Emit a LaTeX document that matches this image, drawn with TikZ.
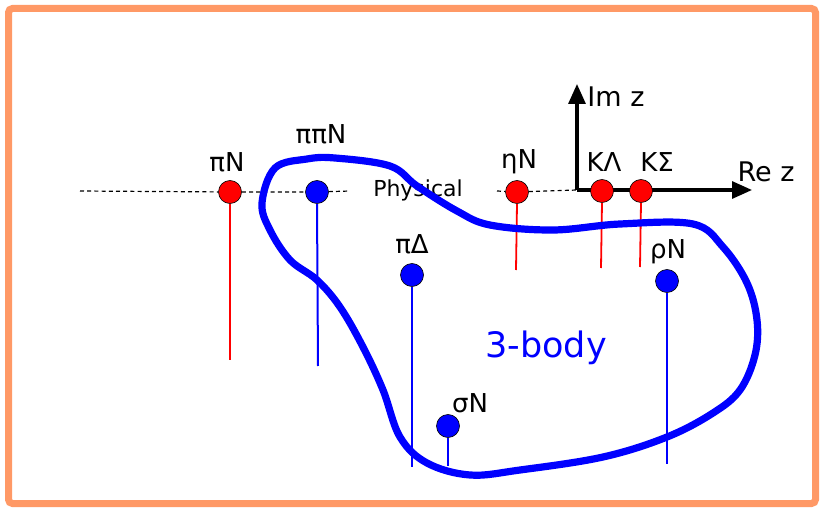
\documentclass[tikz,border=0pt]{standalone}
\usepackage{fontspec}
\setmainfont{DejaVu Sans}
\usetikzlibrary{arrows.meta}
\definecolor{framecol}{HTML}{FF9966}

\begin{document}
\begin{tikzpicture}[
    x=0.5pt, y=-0.5pt,
    pole/.style={circle, draw=black, line width=0.3pt, minimum size=11.5pt, inner sep=0pt},
    redpole/.style={pole, fill=red},
    bluepole/.style={pole, fill=blue},
    tag/.style={font=\fontsize{13}{15}\selectfont, inner sep=0pt},
    redcut/.style={draw=red, line width=0.9pt},
    bluecut/.style={draw=blue, line width=1pt},
    axis/.style={-{Triangle[length=10pt,width=8.5pt]}, line width=1.6pt},
    physline/.style={dashed, dash pattern=on 2pt off 1.6pt, line width=0.6pt},
    threebody/.style={draw=blue, line width=3.6pt, line join=round}
]

\useasboundingbox (0,0) rectangle (820,508);
\draw[framecol, line width=3.5pt, rounded corners=2pt] (8.5,8.5) rectangle (815.5,503.5);

% axes of the z plane
\coordinate (origin) at (577,190);
\coordinate (imtip) at (577,84);
\coordinate (retip) at (752,190);
\draw[axis] (origin) -- (imtip);
\draw[axis] (origin) -- (retip);

% thresholds
\node[redpole] (piN) at (230,192) {};
\node[bluepole] (pipiN) at (317,192) {};
\node[redpole] (etaN) at (517,192) {};
\node[redpole] (KLam) at (602,191) {};
\node[redpole] (KSig) at (641,191) {};
\node[bluepole] (piDel) at (412,275) {};
\node[bluepole] (rhoN) at (667,281) {};
\node[bluepole] (sigN) at (448,426) {};

% physical axis
\coordinate (physL) at (80,191);
\coordinate (physM) at (350,191);
\coordinate (physR) at (497,191);
\draw[physline] (physL) -- (piN) -- (pipiN) -- (physM);
\draw[physline] (physR) -- (etaN) -- (origin);
\node[font=\fontsize{11}{13}\selectfont, inner sep=0pt] (phys) at (418,190) {Physical};

% cuts
\coordinate (piN-end) at (230,360);
\coordinate (pipiN-end) at (318,366);
\coordinate (etaN-end) at (516,270);
\coordinate (KLam-end) at (601,268);
\coordinate (KSig-end) at (640,267);
\coordinate (piDel-end) at (412,467);
\coordinate (rhoN-end) at (667,464);
\coordinate (sigN-end) at (448,466);
\draw[redcut] (piN.south) -- (piN-end);
\draw[bluecut] (pipiN.south) -- (pipiN-end);
\draw[redcut] (etaN.south) -- (etaN-end);
\draw[redcut] (KLam.south) -- (KLam-end);
\draw[redcut] (KSig.south) -- (KSig-end);
\draw[bluecut] (piDel.south) -- (piDel-end);
\draw[bluecut] (rhoN.south) -- (rhoN-end);
\draw[bluecut] (sigN.south) -- (sigN-end);

% 3-body region
\draw[threebody] plot[smooth cycle, tension=0.6] coordinates {
    (262,203) (275,168) (307,159) (335,158) (390,166) (417,186) (457,211)
    (490,225) (553,230) (620,224) (693,224) (723,247) (747,283) (757,320)
    (755,355) (740,390) (713,413) (667,437) (603,457) (520,470) (470,475)
    (427,463) (400,437) (383,390) (363,347) (340,307) (317,280) (290,260)
    (270,230)};
\node[font=\fontsize{17.5}{20}\selectfont, text=blue, inner sep=0pt] (body) at (546,348) {3-body};

% labels
\node[tag] (piN-lab) at (227,162) {πN};
\node[tag] (pipiN-lab) at (321,134) {ππN};
\node[tag] (etaN-lab) at (519,162) {ηN};
\node[tag] (KLam-lab) at (604,162) {KΛ};
\node[tag] (KSig-lab) at (657,162) {KΣ};
\node[tag] (piDel-lab) at (412,244) {πΔ};
\node[tag] (rhoN-lab) at (668,252) {ρN};
\node[tag] (sigN-lab) at (470,403) {σN};
\node[tag, font=\fontsize{13.5}{15}\selectfont] (im-lab) at (616,97) {Im z};
\node[tag, font=\fontsize{13.5}{15}\selectfont] (re-lab) at (766,172) {Re z};

\end{tikzpicture}
\end{document}
